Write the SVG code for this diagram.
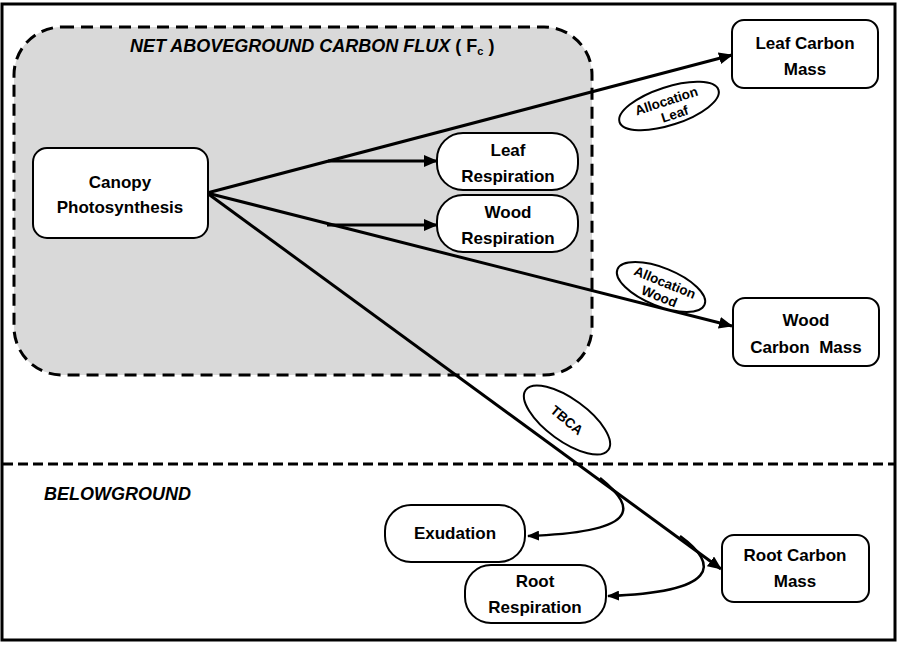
<svg xmlns="http://www.w3.org/2000/svg" width="900" height="649" viewBox="0 0 900 649">
<defs>
<style>
.box{fill:#fff;stroke:#000;stroke-width:2}
.t{font-family:"Liberation Sans",Arial,sans-serif;font-weight:bold;font-size:17px;fill:#000;text-anchor:middle}
.s{font-family:"Liberation Sans",Arial,sans-serif;font-weight:bold;font-size:13.5px;fill:#000;text-anchor:middle}
.hd{font-family:"Liberation Sans",Arial,sans-serif;font-weight:bold;font-style:italic;font-size:18px;fill:#000}
.c{fill:none;stroke:#000;stroke-width:3}
.cc{fill:none;stroke:#000;stroke-width:2.5}
.lbl{fill:#fff;stroke:#000;stroke-width:2}
</style>
<marker id="ah" markerUnits="userSpaceOnUse" markerWidth="14" markerHeight="12" refX="13" refY="6" orient="auto">
<path d="M0,0 L14,6 L0,12 Z" fill="#000"/>
</marker>
<marker id="ah2" markerUnits="userSpaceOnUse" markerWidth="12" markerHeight="10" refX="11" refY="5" orient="auto">
<path d="M0,0 L12,5 L0,10 Z" fill="#000"/>
</marker>
</defs>
<rect x="2" y="4" width="893" height="636" fill="#fff" stroke="#000" stroke-width="3"/>
<g id="aboveground-region">
<rect x="14" y="27" width="578" height="348" rx="48" ry="48" fill="#d9d9d9" stroke="#000" stroke-width="3" stroke-dasharray="12 7"/>
<text x="130" y="52" class="hd">NET ABOVEGROUND CARBON FLUX<tspan font-style="normal"> ( F</tspan><tspan font-style="normal" font-size="11" dy="3">c</tspan><tspan font-style="normal" dy="-3"> )</tspan></text>
</g>
<g id="belowground-divider">
<line x1="3" y1="464" x2="894" y2="464" stroke="#000" stroke-width="3" stroke-dasharray="10 5"/>
<text x="44" y="500" class="hd" font-size="17">BELOWGROUND</text>
</g>
<g id="connectors">
<line class="c" x1="207" y1="193" x2="732" y2="55" marker-end="url(#ah)"/>
<line class="c" x1="328" y1="161" x2="437" y2="161" marker-end="url(#ah)"/>
<line class="c" x1="207" y1="193" x2="732" y2="326" marker-end="url(#ah)"/>
<line class="c" x1="327" y1="225" x2="437" y2="225" marker-end="url(#ah)"/>
<line class="c" x1="207" y1="193" x2="721" y2="569" marker-end="url(#ah)"/>
<path class="cc" d="M600,478 C640,510 636,532 528,536" marker-end="url(#ah2)"/>
<path class="cc" d="M680,536 C720,565 718,592 608,596" marker-end="url(#ah2)"/>
</g>
<g id="label-allocation-leaf" transform="translate(669,106) rotate(-18)">
<ellipse class="lbl" cx="0" cy="0" rx="52" ry="19"/>
<text class="s" x="-1" y="-1">Allocation</text>
<text class="s" x="3" y="14">Leaf</text>
</g>
<g id="label-allocation-wood" transform="translate(661,287) rotate(22)">
<ellipse class="lbl" cx="0" cy="0" rx="47" ry="19"/>
<text class="s" x="2" y="-1">Allocation</text>
<text class="s" x="2" y="14">Wood</text>
</g>
<g id="label-tbca" transform="translate(567,420) rotate(36)">
<ellipse class="lbl" cx="0" cy="0" rx="51" ry="21"/>
<text class="s" x="0" y="5" font-size="13" transform="rotate(4)">TBCA</text>
</g>
<g id="canopy-photosynthesis">
<rect class="box" x="33" y="148" width="175" height="90" rx="14"/>
<text class="t" x="120" y="188">Canopy</text>
<text class="t" x="120" y="213">Photosynthesis</text>
</g>
<g id="leaf-respiration">
<rect class="box" x="437" y="133" width="141" height="57" rx="26"/>
<text class="t" x="508" y="156">Leaf</text>
<text class="t" x="508" y="182">Respiration</text>
</g>
<g id="wood-respiration">
<rect class="box" x="437" y="195" width="141" height="57" rx="26"/>
<text class="t" x="508" y="218">Wood</text>
<text class="t" x="508" y="244">Respiration</text>
</g>
<g id="leaf-carbon-mass">
<rect class="box" x="732" y="20" width="146" height="68" rx="12"/>
<text class="t" x="805" y="49">Leaf Carbon</text>
<text class="t" x="805" y="75">Mass</text>
</g>
<g id="wood-carbon-mass">
<rect class="box" x="733" y="298" width="146" height="68" rx="12"/>
<text class="t" x="806" y="326">Wood</text>
<text class="t" x="806" y="353" xml:space="preserve">Carbon  Mass</text>
</g>
<g id="root-carbon-mass">
<rect class="box" x="722" y="535" width="147" height="67" rx="12"/>
<text class="t" x="795" y="561">Root Carbon</text>
<text class="t" x="795" y="587">Mass</text>
</g>
<g id="exudation">
<rect class="box" x="385" y="505" width="140" height="57" rx="26"/>
<text class="t" x="455" y="539">Exudation</text>
</g>
<g id="root-respiration">
<rect class="box" x="465" y="565" width="141" height="58" rx="26"/>
<text class="t" x="535" y="587">Root</text>
<text class="t" x="535" y="613">Respiration</text>
</g>
</svg>
